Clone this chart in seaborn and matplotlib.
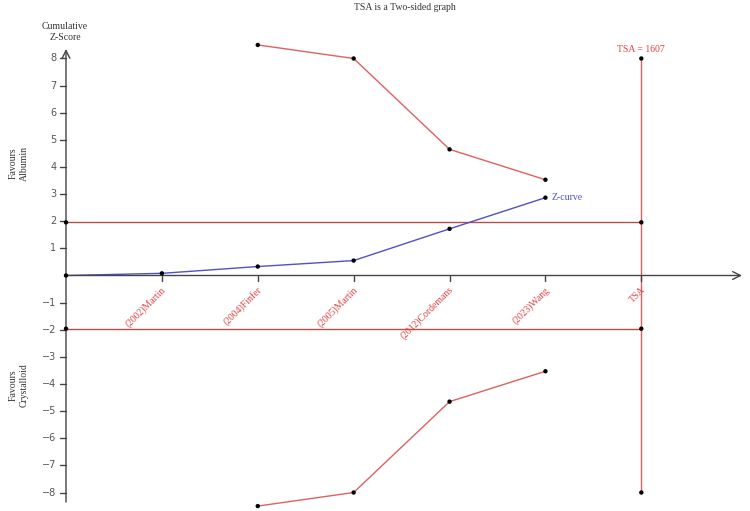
import numpy as np
import pandas as pd
import seaborn as sns
import matplotlib
matplotlib.use('Agg')
import matplotlib.pyplot as plt

# 数据
studies = ['(2002)Martin', '(2004)Finfer', '(2005)Martin', '(2012)Cordemans', '(2023)Wang']
x_labels = studies + ['TSA']
z_pos = [0, 1, 2, 3, 4, 5]
z_curve = [0, 0.08, 0.33, 0.55, 1.72, 2.87]
bound_pos = [2, 3, 4, 5]
upper_bound = [8.5, 8.0, 4.65, 3.53]
lower_bound = [-8.5, -8.0, -4.65, -3.53]
tsa_pos = 6
tsa_ends = [8, -8]
conv_z = 1.96
tsa_label = 'TSA = 1607'
y_ticks = [-8, -7, -6, -5, -4, -3, -2, -1, 1, 2, 3, 4, 5, 6, 7, 8]

sns.set_style('white')
plt.rcParams['font.family'] = ['Liberation Serif', 'DejaVu Serif']

fig = plt.figure(figsize=(7.5, 5.11), dpi=100)
ax = fig.add_axes([66 / 750, 9 / 511, 676 / 750, 453 / 511])
ax.set_xlim(0, 7.05)
ax.set_ylim(-8.35, 8.35)
for s in ax.spines.values():
    s.set_visible(False)

red = '#e06060'
brown = '#b0504a'
blue = '#5050c8'

# 传统界值 ±1.96
for v in [conv_z, -conv_z]:
    sns.lineplot(x=[0, tsa_pos], y=[v, v], color=brown, lw=1, ax=ax)
    sns.scatterplot(x=[0, tsa_pos], y=[v, v], color='black', s=10, ax=ax,
                    edgecolor='none', clip_on=False, zorder=5)

# TSA 竖线
sns.lineplot(x=[tsa_pos, tsa_pos], y=tsa_ends, color=red, lw=1, ax=ax,
             estimator=None, sort=False)
sns.scatterplot(x=[tsa_pos, tsa_pos], y=tsa_ends, color='black', s=10, ax=ax,
                edgecolor='none', zorder=5)

# 界值曲线
for b in [upper_bound, lower_bound]:
    sns.lineplot(x=bound_pos, y=b, color=red, lw=1, ax=ax).lines[-1].set_clip_on(False)
    sns.scatterplot(x=bound_pos, y=b, color='black', s=10, ax=ax,
                    edgecolor='none', clip_on=False, zorder=5)

# Z 曲线
sns.lineplot(x=z_pos, y=z_curve, color=blue, lw=1, ax=ax)
sns.scatterplot(x=z_pos, y=z_curve, color='black', s=10, ax=ax,
                edgecolor='none', clip_on=False, zorder=5)

# 坐标轴（带箭头）
ax.annotate('', xy=(7.05, 0), xytext=(0, 0),
            arrowprops=dict(arrowstyle='->', color='#444444', lw=1,
                            shrinkA=0, shrinkB=0, mutation_scale=14))
ax.annotate('', xy=(0, 8.35), xytext=(0, -8.35),
            arrowprops=dict(arrowstyle='->', color='#444444', lw=1,
                            shrinkA=0, shrinkB=0, mutation_scale=14))

# y 轴刻度
for t in y_ticks:
    ax.plot([-0.06, 0], [t, t], color='#444444', lw=1, clip_on=False)
    ax.text(-0.1, t, str(t).replace('-', '\u2212'), ha='right', va='center',
            fontsize=7, color='#555555', family=['DejaVu Sans'])

# x 轴刻度与标签
for i, lab in enumerate(x_labels):
    xp = i + 1
    ax.plot([xp, xp], [0, -0.2], color='#444444', lw=1)
    ax.text(xp - 0.01, -0.35, lab, rotation=45, ha='right', va='top',
            rotation_mode='anchor', fontsize=7, color='#e04040')

ax.set_xticks([])
ax.set_yticks([])
ax.set_xlabel('')
ax.set_ylabel('')

# 文字注释
fig.text(405 / 750, 1 - 8 / 511, 'TSA is a Two-sided graph', ha='center',
         va='center', fontsize=7, color='#333333')
fig.text(65 / 750, 1 - 32 / 511, 'Cumulative\nZ-Score', ha='center',
         va='center', fontsize=7, color='#333333', linespacing=1.3)
fig.text(19 / 750, 1 - 163 / 511, 'Favours\nAlbumin', ha='center',
         va='center', fontsize=7, color='#333333', rotation=90, linespacing=1.3)
fig.text(19 / 750, 1 - 385 / 511, 'Favours\nCrystalloid', ha='center',
         va='center', fontsize=7, color='#333333', rotation=90, linespacing=1.3)
ax.text(tsa_pos, 8.15, tsa_label, ha='center', va='bottom', fontsize=7,
        color='#e04040')
ax.text(bound_pos[-1] + 0.06, z_curve[-1], 'Z-curve', ha='left', va='center',
        fontsize=7, color=blue)

fig.savefig('out.png', dpi=100)
